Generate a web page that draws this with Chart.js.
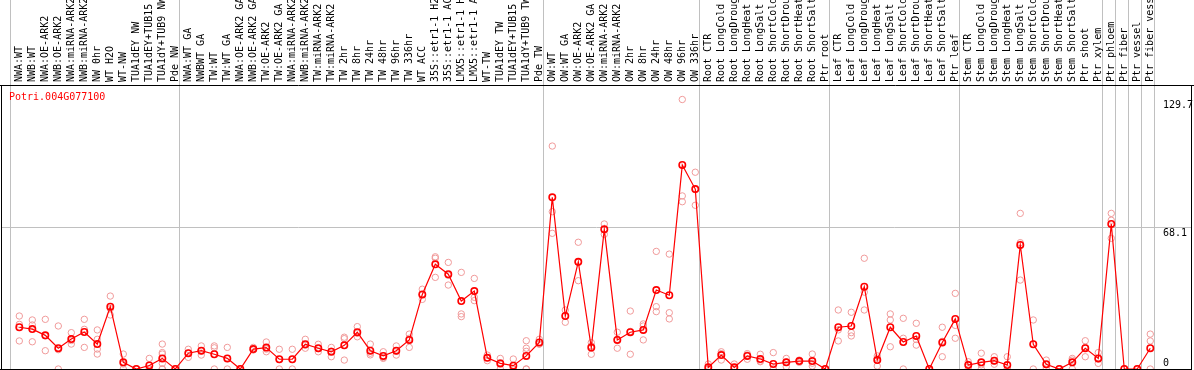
<!DOCTYPE html>
<html>
<head>
<meta charset="utf-8">
<script src="https://cdn.jsdelivr.net/npm/chart.js@4.4.1/dist/chart.umd.min.js"></script>
<style>
  html, body { margin: 0; padding: 0; background: #fff; }
  #wrap { width: 1194px; height: 370px; }
</style>
</head>
<body>
<div id="wrap"><canvas id="efp" width="1194" height="370"></canvas></div>
<script>
// eFP-style expression plot for one poplar gene

const GENE = 'Potri.004G077100';

const samples = [
  'NWA:WT', 'NWB:WT', 'NWA:OE-ARK2', 'NWB:OE-ARK2', 'NWA:miRNA-ARK2', 'NWB:miRNA-ARK2',
  'NW 0hr', 'WT H2O', 'WT-NW', 'TUA1dEY NW', 'TUA1dEY+TUB15', 'TUA1dY+TUB9 NW', 'Pde NW',
  'NWA:WT GA', 'NWBWT GA', 'TW:WT', 'TW:WT GA', 'NWA:OE-ARK2 GA', 'NWB:OE-ARK2 GA',
  'TW:OE-ARK2', 'TW:OE-ARK2 GA', 'NWA:miRNA-ARK2', 'NWB:miRNA-ARK2', 'TW:miRNA-ARK2',
  'TW:miRNA-ARK2', 'TW 2hr', 'TW 8hr', 'TW 24hr', 'TW 48hr', 'TW 96hr', 'TW 336hr',
  'WT ACC', '35S::etr1-1 H2', '35S::etr1-1 AC', 'LMX5::etr1-1 H', 'LMX5::etr1-1 A',
  'WT-TW', 'TUA1dEY TW', 'TUA1dEY+TUB15', 'TUA1dY+TUB9 TW', 'Pde TW',
  'OW:WT', 'OW:WT GA', 'OW:OE-ARK2', 'OW:OE-ARK2 GA', 'OW:miRNA-ARK2', 'OW:miRNA-ARK2',
  'OW 2hr', 'OW 8hr', 'OW 24hr', 'OW 48hr', 'OW 96hr', 'OW 336hr',
  'Root CTR', 'Root LongCold', 'Root LongDroug', 'Root LongHeat', 'Root LongSalt',
  'Root ShortCold', 'Root ShortDrou', 'Root ShortHeat', 'Root ShortSalt', 'Ptr root',
  'Leaf CTR', 'Leaf LongCold', 'Leaf LongDroug', 'Leaf LongHeat', 'Leaf LongSalt',
  'Leaf ShortCold', 'Leaf ShortDrou', 'Leaf ShortHeat', 'Leaf ShortSalt', 'Ptr leaf',
  'Stem CTR', 'Stem LongCold', 'Stem LongDroug', 'Stem LongHeat', 'Stem LongSalt',
  'Stem ShortCold', 'Stem ShortDrou', 'Stem ShortHeat', 'Stem ShortSalt', 'Ptr shoot',
  'Ptr xylem', 'Ptr phloem', 'Ptr fiber', 'Ptr vessel', 'Ptr fiber vess'
];

// samples per group, the grey separators go between groups
const groupSizes = [13, 28, 12, 10, 10, 11, 1, 1, 1, 1];

const means = [
  20.1, 19.2, 16.2, 10.0, 14.4, 17.8, 12.0, 30.0, 3.2, 0, 1.7, 5.1, 0,
  7.6, 8.8, 7.1, 5.1, 0, 9.6, 10.3, 4.7, 4.7, 11.9, 10.0, 8.3, 11.4, 17.7, 8.8, 6.3, 8.8,
  14.0, 35.9, 50.4, 45.6, 32.7, 37.5, 5.4, 2.7, 1.6, 6.3, 12.8,
  82.6, 25.5, 51.6, 10.3, 67.2, 14.0, 17.7, 18.8, 38.0, 35.5, 98.2, 86.6,
  0.8, 6.7, 0.8, 6.3, 4.8, 2.4, 3.2, 3.8, 3.8, 0,
  20.1, 20.7, 39.6, 4.3, 20.1, 13.0, 15.9, 0, 12.8, 24.1,
  1.9, 3.2, 4.0, 1.9, 59.7, 11.9, 2.3, 0, 3.2, 10.0, 5.1,
  69.8, 0, 0, 10.0
];

const replicates = [
  [25.5, 21.5, 13.5], [23.6, 21.2, 13.1], [23.9, 15.9, 8.8], [20.7, 9.3, 0],
  [17.5, 13.7, 12.0], [23.9, 19.1, 10.4], [18.8, 14.3, 9.6, 7.2], [35.1, 29.0, 26.0],
  [7.2, 2.4, 0], [0, 0, 0], [5.1, 0, 0], [12.0, 7.9, 7.2, 2.7, 0, 0], [0, 0, 0],
  [9.5, 7.6, 5.6], [11.1, 8.7, 6.7], [11.1, 10.2, 0], [10.4, 5.0, 0], [0, 0, 0],
  [10.4, 9.2, 9.2], [13.0, 9.6, 8.3], [9.5, 4.6, 0], [9.5, 4.6, 0],
  [14.3, 11.4, 10.0], [11.9, 9.8, 8.3], [10.4, 8.6, 5.9], [15.3, 14.6, 4.3],
  [20.4, 17.2, 15.5], [12.0, 7.6, 6.8], [8.3, 5.5, 5.1], [11.1, 8.6, 6.7],
  [16.8, 14.8, 10.4], [38.4, 35.8, 33.5], [54.0, 53.3, 44.1], [51.3, 45.1, 40.4],
  [46.5, 26.5, 25.2], [43.6, 34.5, 32.9], [6.7, 5.5, 4.0], [5.1, 3.0, 0],
  [4.8, 0, 0], [13.6, 10.0, 8.5, 0, 0], [14.3, 12.0, 12.0],
  [107.3, 75.7, 65.3], [28.4, 25.6, 22.5], [61.0, 51.3, 42.5], [12.7, 11.1, 7.1],
  [69.8, 67.0, 64.8], [17.7, 14.3, 10.0], [27.9, 18.1, 7.1], [21.7, 20.7, 14.0],
  [56.6, 30.0, 27.6], [55.3, 27.1, 24.1], [129.7, 83.3, 80.5], [94.7, 86.3, 78.8],
  [2.4, 0, 0], [8.3, 7.4, 4.3], [2.4, 0, 0], [7.4, 6.7, 4.7], [7.1, 3.8, 3.5],
  [7.9, 0, 0], [5.1, 3.4, 1.1], [4.3, 3.9, 3.2], [7.2, 2.8, 1.4], [0, 0, 0],
  [28.4, 18.8, 13.5], [27.3, 17.5, 15.9], [53.3, 37.0, 28.4], [6.3, 5.2, 1.4],
  [26.5, 23.6, 10.7], [24.4, 14.8, 0], [22.0, 14.2, 11.5], [0, 0, 0],
  [20.1, 13.3, 5.9], [36.4, 21.0, 14.8],
  [3.5, 2.2, 0], [7.6, 2.0, 0], [5.9, 3.8, 2.3], [5.9, 0, 0], [74.9, 60.8, 42.8],
  [23.6, 12.0, 0], [4.3, 2.0, 0.5], [0, 0, 0], [5.1, 4.3, 0], [13.6, 10.4, 5.9],
  [7.9, 4.8, 2.7], [74.9, 71.6, 62.9], [0, 0, 0], [0, 0, 0], [16.8, 13.5, 0]
];

const yTicks = [0, 68.1, 129.7];
const Y_MAX = 136.2;

// --- derived ---
const meanPoints = means.map((v, i) => ({ x: i, y: v }));
const repPoints = replicates.flatMap((reps, i) => reps.map(v => ({ x: i, y: v })));

const separators = [-0.64];
let acc = 0;
groupSizes.forEach(n => { acc += n; separators.push(acc - 0.64); });

const X_MIN = -1.408, X_MAX = 90.21;
const MONO = '"DejaVu Sans Mono", "Liberation Mono", monospace';

const framePlugin = {
  id: 'frame',
  beforeDatasetsDraw(chart) {
    const { ctx, chartArea: a } = chart;
    ctx.save();
    ctx.fillStyle = '#ff0000';
    ctx.font = '10px ' + MONO;
    ctx.textBaseline = 'middle';
    ctx.fillText(GENE, a.left + 8, a.top + 11);
    ctx.restore();
  },
  afterDatasetsDraw(chart) {
    const { ctx, chartArea: a } = chart;
    ctx.save();
    ctx.strokeStyle = '#000';
    ctx.lineWidth = 1;
    ctx.beginPath();
    ctx.moveTo(0, a.top - 0.5); ctx.lineTo(chart.width, a.top - 0.5);
    ctx.moveTo(a.left + 0.5, a.top); ctx.lineTo(a.left + 0.5, a.bottom + 1);
    ctx.moveTo(0, a.bottom + 0.5); ctx.lineTo(a.right, a.bottom + 0.5);
    ctx.moveTo(a.right - 0.5, a.top); ctx.lineTo(a.right - 0.5, a.bottom + 1);
    ctx.stroke();
    ctx.restore();
  }
};

new Chart(document.getElementById('efp'), {
  type: 'scatter',
  data: {
    datasets: [
      {
        label: 'mean',
        data: meanPoints,
        showLine: true,
        borderColor: '#ff0000',
        borderWidth: 1.2,
        pointRadius: 3.2,
        pointBorderWidth: 1.6,
        pointBorderColor: '#ff0000',
        pointBackgroundColor: 'rgba(0,0,0,0)',
        order: 0,
        clip: false
      },
      {
        label: 'replicates',
        data: repPoints,
        showLine: false,
        pointRadius: 3.2,
        pointBorderWidth: 1,
        pointBorderColor: '#f09a9a',
        pointBackgroundColor: 'rgba(0,0,0,0)',
        order: 1,
        clip: false
      }
    ]
  },
  options: {
    responsive: false,
    animation: false,
    layout: { autoPadding: false, padding: { left: 1, right: 2, top: 0, bottom: 1 } },
    plugins: {
      legend: { display: false },
      tooltip: { enabled: false }
    },
    scales: {
      x: {
        type: 'linear',
        position: 'top',
        weight: 1,
        min: X_MIN,
        max: X_MAX,
        afterBuildTicks: s => { s.ticks = samples.map((_, i) => ({ value: i })); },
        afterFit: s => { s.height = 86; s.paddingLeft = 0; s.paddingRight = 0; },
        grid: { display: false, drawTicks: false },
        border: { display: false },
        ticks: {
          autoSkip: false,
          minRotation: 90,
          maxRotation: 90,
          padding: 4,
          labelOffset: 12,
          color: '#000',
          font: { family: MONO, size: 10 },
          callback: v => samples[v]
        }
      },
      x2: {
        type: 'linear',
        position: 'top',
        weight: 0,
        min: X_MIN,
        max: X_MAX,
        afterBuildTicks: s => { s.ticks = separators.map(v => ({ value: v })); },
        afterFit: s => { s.height = 0; s.paddingLeft = 0; s.paddingRight = 0; },
        grid: { color: '#c0c0c0', lineWidth: 1, drawTicks: true, tickLength: 86 },
        border: { display: false },
        ticks: { display: false }
      },
      y: {
        type: 'linear',
        position: 'right',
        min: 0,
        max: Y_MAX,
        afterBuildTicks: s => { s.ticks = yTicks.map(v => ({ value: v })); },
        afterFit: s => { s.width = 0; s.paddingTop = 0; s.paddingBottom = 0; },
        grid: {
          drawTicks: false,
          color: c => (c.tick && c.tick.value === 68.1 ? '#c0c0c0' : 'rgba(0,0,0,0)')
        },
        border: { display: false },
        ticks: {
          mirror: true,
          crossAlign: 'far',
          padding: 1,
          color: '#000',
          font: { family: MONO, size: 10 },
          callback: v => (v === 0 ? ['0', ''] : ['', String(v)])
        }
      }
    }
  },
  plugins: [framePlugin]
});
</script>
</body>
</html>
